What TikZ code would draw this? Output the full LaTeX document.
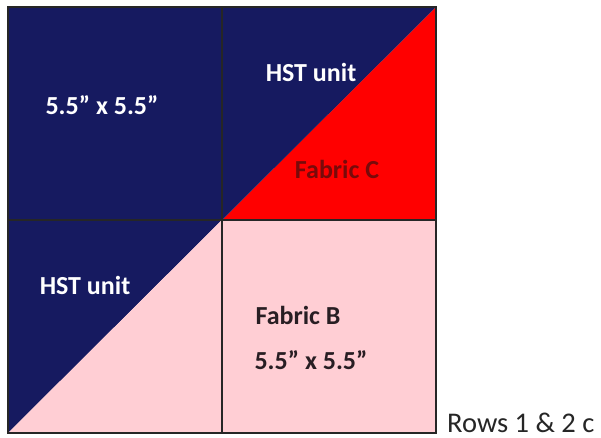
\documentclass[tikz,border=0pt]{standalone}
\usepackage{fontspec}
\setmainfont{Carlito}
\definecolor{navy}{RGB}{22,26,96}
\definecolor{fabred}{RGB}{255,0,0}
\definecolor{fabpink}{RGB}{255,206,212}
\definecolor{darkred}{RGB}{120,10,10}
\definecolor{darktext}{RGB}{40,30,35}
\newcommand{\inch}{\symbol{34}}
\tikzset{
  celltext/.style={font=\fontsize{26}{30}\selectfont\bfseries, inner sep=0pt, anchor=center},
  gridline/.style={draw=black!85, line width=1.6pt}
}
\begin{document}
\begin{tikzpicture}[x=1pt,y=-1pt]
\useasboundingbox (0,0) rectangle (601,438);
\fill[white] (0,0) rectangle (601,438);
% cells
\fill[navy] (8,7) rectangle (222,220);
\fill[fabred] (222,220) -- (436,7) -- (436,220) -- cycle;
\fill[navy] (222,220) -- (222,7) -- (436,7) -- cycle;
\fill[fabpink] (222,220) rectangle (436,433);
\fill[navy] (8,220) -- (222,220) -- (8,433) -- cycle;
\fill[fabpink] (222,220) -- (222,433) -- (8,433) -- cycle;
% grid
\draw[gridline] (222,7) -- (222,433);
\draw[gridline] (8,220) -- (436,220);
\draw[gridline] (8,7) rectangle (436,433);
% texts
\node[celltext, text=white] (tl) at (102,105) {5.5\inch{} x 5.5\inch};
\node[celltext, text=white] (hst1) at (311,72) {HST unit};
\node[celltext, text=darkred] (fc) at (337,169) {Fabric C};
\node[celltext, text=white] (hst2) at (85,285) {HST unit};
\node[celltext, text=darktext] (fb) at (298,315) {Fabric B};
\node[celltext, text=darktext] (dim) at (311,360) {5.5\inch{} x 5.5\inch};
\node[font=\fontsize{28.5}{32}\selectfont, anchor=base west, inner sep=0pt, text=black!85] (rows) at (447,432) {Rows 1 \& 2 c};
\end{tikzpicture}
\end{document}
